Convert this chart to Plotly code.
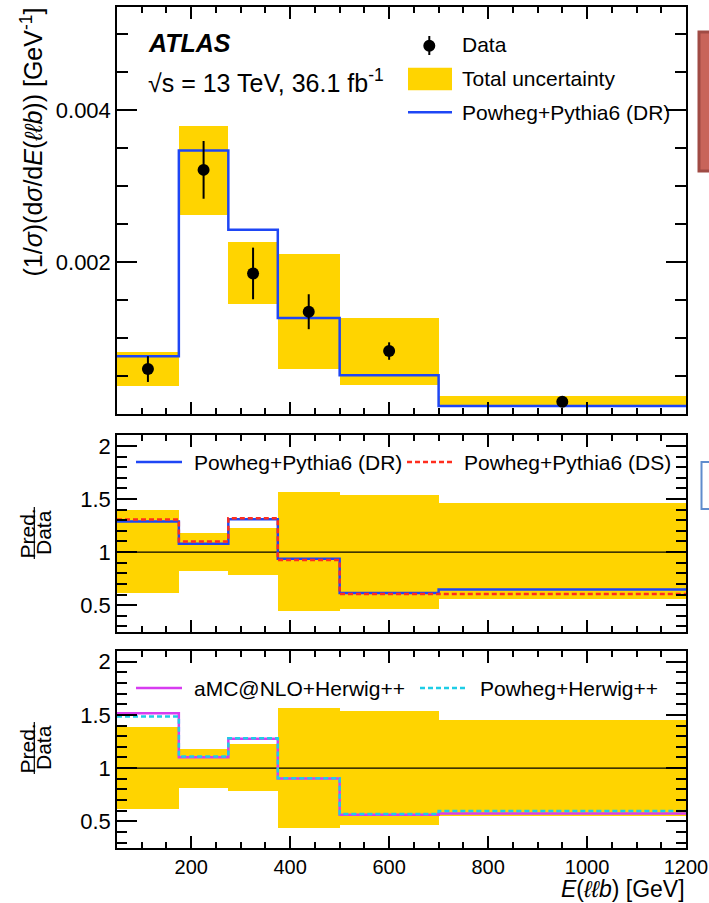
import plotly.graph_objects as go

# ---------------- data ----------------
bin_edges = [50, 175, 275, 375, 500, 700, 1200]
data_vals = [0.000592, 0.003215, 0.001851, 0.001347, 0.000829, 0.000162]
data_err = [0.00017, 0.00038, 0.00034, 0.00023, 0.000115, 0.00002]
# total uncertainty band relative to data (ratio panels)
unc_lo = [0.614, 0.816, 0.782, 0.439, 0.464, 0.551]
unc_hi = [1.389, 1.180, 1.224, 1.564, 1.533, 1.455]
# predictions
pred_dr = [0.000762, 0.00347, 0.002425, 0.001263, 0.00051, 0.000105]
ratio_ds = [1.308, 1.100, 1.318, 0.925, 0.604, 0.606]
ratio_amc = [1.516, 1.103, 1.275, 0.903, 0.5625, 0.575]
ratio_phw = [1.484, 1.110, 1.280, 0.906, 0.569, 0.597]
main_yticks = [0.002, 0.004]
main_yticktext = ["0.002", "0.004"]
ratio_yticks = [0.5, 1, 1.5, 2]
ratio_yticktext = ["0.5", "1", "1.5", "2"]

W, H = 709, 903
FONT = "Liberation Sans, Arial, Helvetica, sans-serif"
YEL = "rgb(255,212,0)"
BLUE = "rgb(30,70,245)"
RED = "rgb(255,45,30)"
MAG = "rgb(215,60,240)"
CYAN = "rgb(30,205,230)"


def px(x):
    return x / W


def py(y):
    return 1 - y / H


centers = [(bin_edges[i] + bin_edges[i + 1]) / 2 for i in range(len(bin_edges) - 1)]
widths = [bin_edges[i + 1] - bin_edges[i] for i in range(len(bin_edges) - 1)]


def step(vals):
    return list(vals) + [vals[-1]]


ratio_dr = [p / d for p, d in zip(pred_dr, data_vals)]

fig = go.Figure()

# ---------- main panel ----------
fig.add_trace(go.Bar(
    x=centers, width=widths,
    base=[d * l for d, l in zip(data_vals, unc_lo)],
    y=[d * (h - l) for d, h, l in zip(data_vals, unc_hi, unc_lo)],
    marker=dict(color=YEL, line=dict(width=0)),
    name="Total uncertainty", showlegend=False, xaxis="x", yaxis="y"))
fig.add_trace(go.Scatter(
    x=bin_edges, y=step(pred_dr), mode="lines", line=dict(color=BLUE, width=2.5, shape="hv"),
    name="Powheg+Pythia6 (DR)", showlegend=False, xaxis="x", yaxis="y"))
fig.add_trace(go.Scatter(
    x=centers, y=data_vals, mode="markers",
    marker=dict(color="black", size=12),
    error_y=dict(type="data", array=data_err, thickness=2, width=0, color="black"),
    name="Data", showlegend=False, xaxis="x", yaxis="y"))

# ---------- ratio panels ----------
for xa, ya, preds in [("x2", "y2", [(ratio_dr, BLUE, "solid", "Powheg+Pythia6 (DR)"),
                                     (ratio_ds, RED, "5px,3px", "Powheg+Pythia6 (DS)")]),
                      ("x3", "y3", [(ratio_amc, MAG, "solid", "aMC@NLO+Herwig++"),
                                     (ratio_phw, CYAN, "5px,3px", "Powheg+Herwig++")])]:
    fig.add_trace(go.Bar(
        x=centers, width=widths, base=unc_lo,
        y=[h - l for h, l in zip(unc_hi, unc_lo)],
        marker=dict(color=YEL, line=dict(width=0)),
        name="Total uncertainty", showlegend=False, xaxis=xa, yaxis=ya))
    fig.add_trace(go.Scatter(
        x=[bin_edges[0], bin_edges[-1]], y=[1, 1], mode="lines",
        line=dict(color="black", width=1.2), showlegend=False, xaxis=xa, yaxis=ya))
    for vals, col, dash, nm in preds:
        fig.add_trace(go.Scatter(
            x=bin_edges, y=step(vals), mode="lines",
            line=dict(color=col, width=2.5, dash=dash, shape="hv"),
            name=nm, showlegend=False, xaxis=xa, yaxis=ya))

# ---------- axes ----------
xdom = [px(117), px(686)]
axis_common = dict(showline=True, mirror="allticks", linecolor="black", linewidth=1.5,
                   ticks="inside", tickwidth=1.5, tickcolor="black", showgrid=False,
                   zeroline=False, automargin=False, fixedrange=True)


def xaxis_cfg(anchor, labels):
    d = dict(axis_common)
    d.update(domain=xdom, anchor=anchor, range=[bin_edges[0], bin_edges[-1]],
             tickmode="linear", tick0=0, dtick=200, ticklen=12,
             minor=dict(ticks="inside", ticklen=6, tickwidth=1.5, tickcolor="black",
                        tickmode="linear", tick0=0, dtick=50),
             showticklabels=labels, tickfont=dict(family=FONT, size=20, color="black"))
    return d


def yaxis_cfg(anchor, dom, rng, tv, tt, mdt, mlen):
    d = dict(axis_common)
    d.update(domain=dom, anchor=anchor, range=rng, tickmode="array", tickvals=tv, ticktext=tt,
             ticklen=20,
             minor=dict(ticks="inside", ticklen=mlen, tickwidth=1.5, tickcolor="black",
                        tickmode="linear", tick0=0, dtick=mdt),
             tickfont=dict(family=FONT, size=22, color="black"))
    return d


fig.update_layout(
    width=W, height=H, margin=dict(l=0, r=0, t=0, b=0),
    paper_bgcolor="white", plot_bgcolor="white", barmode="overlay", bargap=0,
    font=dict(family=FONT, color="black"),
    xaxis=xaxis_cfg("y", False),
    xaxis2=xaxis_cfg("y2", False),
    xaxis3=xaxis_cfg("y3", True),
    yaxis=yaxis_cfg("x", [py(414), py(7)], [0, 0.00536], main_yticks, main_yticktext, 0.0005, 11),
    yaxis2=yaxis_cfg("x2", [py(631.7), py(435.3)], [0.25, 2.1], ratio_yticks, ratio_yticktext, 0.1, 10),
    yaxis3=yaxis_cfg("x3", [py(848), py(651)], [0.25, 2.1], ratio_yticks, ratio_yticktext, 0.1, 10),
    showlegend=False,
)

shapes = []
ann = []


def text(x, y, s, size, xanchor="left", yanchor="middle", angle=0):
    ann.append(dict(x=px(x), y=py(y), xref="paper", yref="paper", text=s, showarrow=False,
                    xanchor=xanchor, yanchor=yanchor, textangle=angle,
                    font=dict(family=FONT, size=size, color="black")))


# ATLAS labels
text(146, 43, "<b><i>ATLAS</i></b>", 25)
text(146, 81, "√s = 13 TeV, 36.1 fb<sup>-1</sup>", 25)

# main legend
shapes.append(dict(type="line", xref="paper", yref="paper", x0=px(429.3), x1=px(429.3),
                   y0=py(36), y1=py(55), line=dict(color="black", width=2)))
shapes.append(dict(type="circle", xref="paper", yref="paper", x0=px(423.3), x1=px(435.3),
                   y0=py(39.7), y1=py(51.7), fillcolor="black", line=dict(color="black", width=0)))
shapes.append(dict(type="rect", xref="paper", yref="paper", x0=px(408), x1=px(452),
                   y0=py(90.3), y1=py(67.7), fillcolor=YEL, line=dict(width=0)))
shapes.append(dict(type="line", xref="paper", yref="paper", x0=px(408), x1=px(452),
                   y0=py(112.3), y1=py(112.3), line=dict(color=BLUE, width=2.5)))
text(460, 45, "Data", 21)
text(460, 79, "Total uncertainty", 21)
text(460, 112, "Powheg+Pythia6 (DR)", 21)

# ratio legends
for (x0, x1, y, col, dash, tx, s) in [
        (136, 182, 462, BLUE, "solid", 192, "Powheg+Pythia6 (DR)"),
        (407, 453, 462, RED, "5px,3px", 462, "Powheg+Pythia6 (DS)"),
        (136, 182, 688, MAG, "solid", 192, "aMC@NLO+Herwig++"),
        (420, 468, 688, CYAN, "5px,3px", 478, "Powheg+Herwig++")]:
    shapes.append(dict(type="line", xref="paper", yref="paper", x0=px(x0), x1=px(x1),
                       y0=py(y), y1=py(y), line=dict(color=col, width=2.5, dash=dash)))
    text(tx, y, s, 21)

# axis titles
text(31, 6, "(1/<i>σ</i>)(d<i>σ</i>/d<i>E</i>(<i>ℓℓb</i>)) [GeV<sup>-1</sup>]", 25,
     xanchor="center", yanchor="top", angle=-90)
for yc in [533, 748]:
    text(26.5, yc, "Pred.", 21, xanchor="center", angle=-90)
    text(43, yc, "Data", 21, xanchor="center", angle=-90)
    shapes.append(dict(type="line", xref="paper", yref="paper", x0=px(34.3), x1=px(34.3),
                       y0=py(yc - 26), y1=py(yc + 26), line=dict(color="black", width=1.2)))
text(687, 889, "<i>E</i>(<i>ℓℓb</i>) [GeV]", 23, xanchor="right")

# page decorations at the right edge
shapes.append(dict(type="rect", xref="paper", yref="paper", x0=px(699), x1=px(715),
                   y0=py(171), y1=py(32), fillcolor="rgb(200,100,90)",
                   line=dict(color="rgb(160,75,68)", width=3)))
shapes.append(dict(type="rect", xref="paper", yref="paper", x0=px(701.5), x1=px(715),
                   y0=py(509), y1=py(462), fillcolor="white",
                   line=dict(color="rgb(95,140,205)", width=2)))

fig.update_layout(shapes=shapes, annotations=ann)
fig.write_html("out.html", default_width="709px", default_height="903px",
               config={"displayModeBar": False},
               post_script="document.body.style.margin='0';document.body.style.overflow='hidden';")
